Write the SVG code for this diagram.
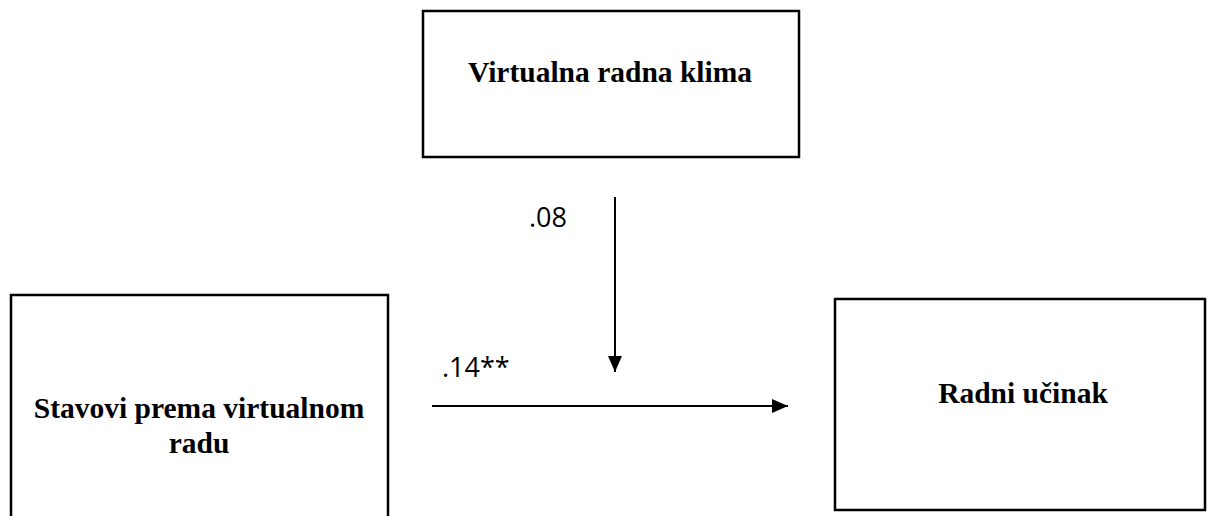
<svg xmlns="http://www.w3.org/2000/svg" width="1208" height="516" viewBox="0 0 1208 516">
<style>
.box{fill:#fff;stroke:#000;stroke-width:2.5}
.t{font-family:"Liberation Serif","Times New Roman",serif;font-weight:bold;font-size:29.5px;text-anchor:middle;fill:#000}
.l{font-family:"Open Sans","Liberation Sans",sans-serif;font-size:27px;fill:#000}
.c{stroke:#000;stroke-width:2;fill:none}
</style>
<defs>
<marker id="arr" viewBox="0 0 16 14" refX="16" refY="7" markerWidth="16" markerHeight="14" markerUnits="userSpaceOnUse" orient="auto">
<path d="M0,0 L16,7 L0,14 Z" fill="#000"/>
</marker>
</defs>
<rect width="1208" height="516" fill="#fff"/>
<g id="virtualna">
<rect class="box" x="423" y="11" width="376" height="146"/>
<text class="t" x="610" y="82">Virtualna radna klima</text>
</g>
<g id="stavovi">
<rect class="box" x="11" y="295" width="377" height="240"/>
<text class="t" x="199" y="418">Stavovi prema virtualnom</text>
<text class="t" x="199" y="453">radu</text>
</g>
<g id="radni">
<rect class="box" x="835" y="299" width="370" height="211"/>
<text class="t" x="1023" y="403">Radni učinak</text>
</g>
<g id="connectors">
<line class="c" x1="615" y1="197" x2="615" y2="372" marker-end="url(#arr)"/>
<line class="c" x1="432" y1="406" x2="788" y2="406" marker-end="url(#arr)"/>
<text class="l" x="529" y="227">.08</text>
<text class="l" x="442" y="377">.14**</text>
</g>
</svg>
